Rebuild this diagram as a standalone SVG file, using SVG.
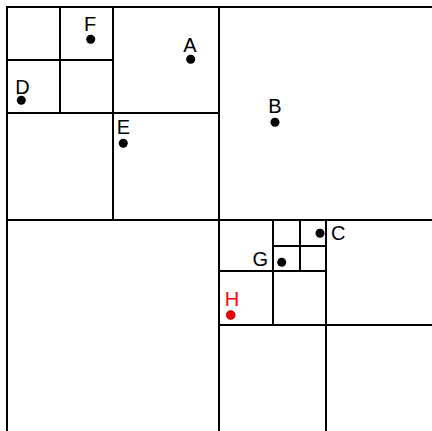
<svg xmlns="http://www.w3.org/2000/svg" width="432" height="431" viewBox="0 0 432 431">
<style>
.ln{stroke:#000;stroke-width:2;fill:none;stroke-linecap:square}
.pt{fill:#000}
.lb{font-family:"Liberation Sans",Arial,sans-serif;font-size:20px;fill:#000}
.red .pt{fill:#e00;stroke:#600;stroke-width:0.5}
.red .lb{fill:#f00}
</style>
<rect width="432" height="431" fill="#fff"/>
<g id="grid" class="ln">
<path d="M7 7H432M7 7V431"/>
<path d="M219 7V431M7 220H432"/>
<path d="M113 7V220M7 113H219"/>
<path d="M60 7V113M7 60H113"/>
<path d="M326 220V431M219 325H432"/>
<path d="M273 220V325M219 271H326"/>
<path d="M300 220V271M273 246H326"/>
</g>
<g id="F"><circle class="pt" cx="90.7" cy="39.3" r="4.5"/><text class="lb" x="90" y="30.5" text-anchor="middle">F</text></g>
<g id="A"><circle class="pt" cx="190.7" cy="59.3" r="4.5"/><text class="lb" x="190" y="51.5" text-anchor="middle">A</text></g>
<g id="D"><circle class="pt" cx="21.3" cy="100.3" r="4.5"/><text class="lb" x="22.5" y="94" text-anchor="middle">D</text></g>
<g id="E"><circle class="pt" cx="123.3" cy="143.3" r="4.5"/><text class="lb" x="123.5" y="134" text-anchor="middle">E</text></g>
<g id="B"><circle class="pt" cx="275" cy="122.3" r="4.5"/><text class="lb" x="275" y="113" text-anchor="middle">B</text></g>
<g id="C"><circle class="pt" cx="320" cy="233.3" r="4.5"/><text class="lb" x="331" y="240" text-anchor="start">C</text></g>
<g id="G"><circle class="pt" cx="281.7" cy="262.3" r="4.5"/><text class="lb" x="268" y="265.5" text-anchor="end">G</text></g>
<g id="H" class="red"><circle class="pt" cx="230.7" cy="315" r="4.5"/><text class="lb" x="232" y="306" text-anchor="middle">H</text></g>
</svg>
